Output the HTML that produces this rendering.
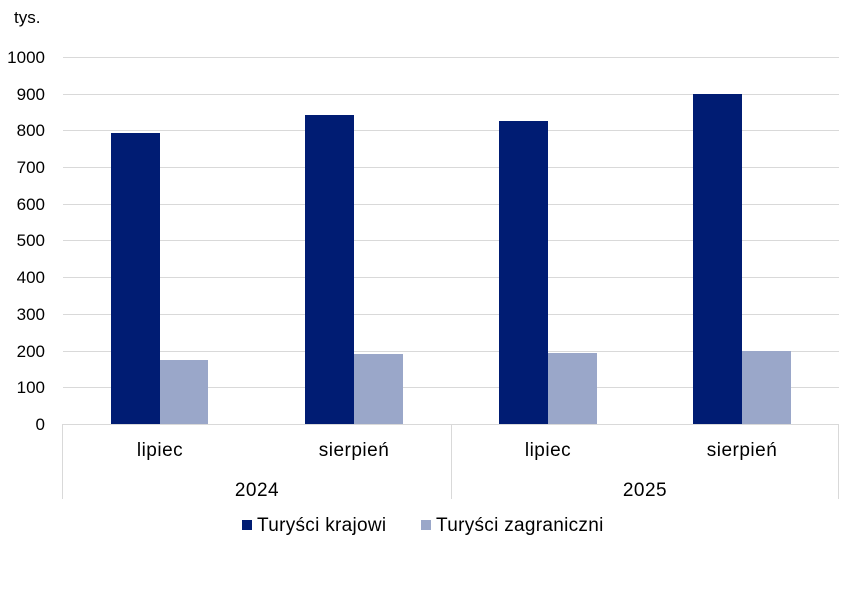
<!DOCTYPE html>
<html><head><meta charset="utf-8"><style>
body{margin:0;background:#fff;}
svg text{font-family:"Liberation Sans",sans-serif;fill:#000;}
</style></head><body>
<svg width="841" height="606" viewBox="0 0 841 606" xmlns="http://www.w3.org/2000/svg">
<rect width="841" height="606" fill="#fff"/>
<text x="14" y="23" font-size="17">tys.</text>
<g stroke="#d9d9d9" stroke-width="1">
<line x1="63" x2="839" y1="57.5" y2="57.5"/>
<line x1="63" x2="839" y1="94.5" y2="94.5"/>
<line x1="63" x2="839" y1="130.5" y2="130.5"/>
<line x1="63" x2="839" y1="167.5" y2="167.5"/>
<line x1="63" x2="839" y1="204.5" y2="204.5"/>
<line x1="63" x2="839" y1="240.5" y2="240.5"/>
<line x1="63" x2="839" y1="277.5" y2="277.5"/>
<line x1="63" x2="839" y1="314.5" y2="314.5"/>
<line x1="63" x2="839" y1="351.5" y2="351.5"/>
<line x1="63" x2="839" y1="387.5" y2="387.5"/>
</g>
<g font-size="17" text-anchor="end">
<text x="45" y="63">1000</text><text x="45" y="100">900</text><text x="45" y="136">800</text>
<text x="45" y="173">700</text><text x="45" y="210">600</text><text x="45" y="246">500</text>
<text x="45" y="283">400</text><text x="45" y="320">300</text><text x="45" y="357">200</text>
<text x="45" y="393">100</text><text x="45" y="430">0</text>
</g>
<g fill="#001c73">
<rect x="111" y="133" width="49" height="291"/>
<rect x="305" y="115" width="49" height="309"/>
<rect x="499" y="121" width="49" height="303"/>
<rect x="693" y="94" width="49" height="330"/>
</g>
<g fill="#9aa7c9">
<rect x="160" y="360" width="48" height="64"/>
<rect x="354" y="354" width="49" height="70"/>
<rect x="548" y="353" width="49" height="71"/>
<rect x="742" y="351" width="49" height="73"/>
</g>
<g stroke="#d9d9d9" stroke-width="1">
<line x1="63" x2="839" y1="424.5" y2="424.5"/>
<line x1="62.5" x2="62.5" y1="424" y2="499"/>
<line x1="451.5" x2="451.5" y1="424" y2="499"/>
<line x1="838.5" x2="838.5" y1="424" y2="499"/>
</g>
<g font-size="19" text-anchor="middle" letter-spacing="0.5">
<text x="160" y="456">lipiec</text><text x="354" y="456">sierpień</text>
<text x="548" y="456">lipiec</text><text x="742" y="456">sierpień</text>
<text x="257" y="496">2024</text><text x="645" y="496">2025</text>
</g>
<rect x="242" y="520" width="10" height="10" fill="#001c73"/>
<text x="257" y="531" font-size="19" letter-spacing="0.3">Turyści krajowi</text>
<rect x="421" y="520" width="10" height="10" fill="#9aa7c9"/>
<text x="436" y="531" font-size="19" letter-spacing="0.3">Turyści zagraniczni</text>
</svg>
</body></html>
